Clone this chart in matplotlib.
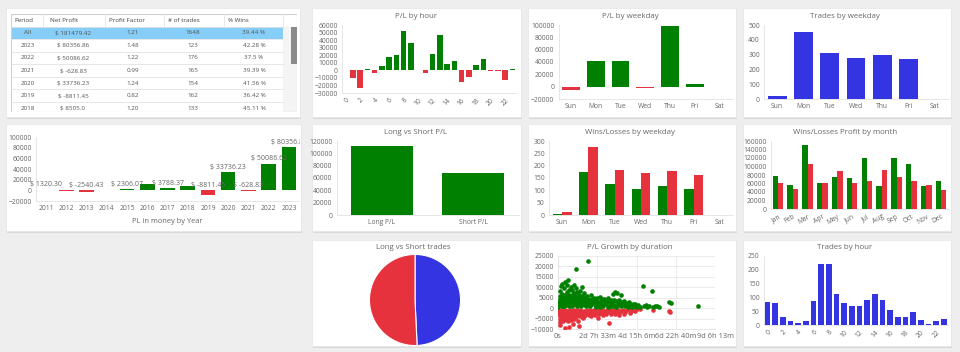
import numpy as np
import matplotlib
matplotlib.use("Agg")
import matplotlib.pyplot as plt
from matplotlib.patches import Rectangle
from matplotlib.ticker import FuncFormatter
from matplotlib.transforms import Bbox, TransformedBbox

plt.rcParams['font.family'] = ['Open Sans', 'DejaVu Sans']

GREEN = '#008000'
RED = '#e5323c'
BLUE = '#3434e2'
GREY = '#666666'

# ---- data -------------------------------------------------------------
table_cols = ['Period', 'Net Profit', 'Profit Factor', '# of trades', '% Wins']
periods = ['All', '2023', '2022', '2021', '2020', '2019', '2018']
net_profit = ['$ 181479.42', '$ 80356.86', '$ 50086.62', '$ -628.83', '$ 33736.23', '$ -8811.45', '$ 8505.0']
profit_factor = ['1.21', '1.48', '1.22', '0.99', '1.24', '0.82', '1.20']
n_trades = [1648, 123, 176, 165, 154, 162, 133]
pct_wins = ['39.44 %', '42.28 %', '37.5 %', '39.39 %', '41.56 %', '36.42 %', '45.11 %']

hours = list(range(24))
pl_hour = [400, -10000, -24000, 1500, -4000, 5600, 18000, 20500, 52000, 36000, 300, -3500,
           22000, 47000, 8000, 13000, -15000, -8700, 7000, 15000, -1500, -1000, -13000, 1500]
trades_hour = [83, 78, 30, 14, 8, 15, 88, 222, 222, 112, 78, 70, 70, 90, 112, 92, 55, 30, 30, 46,
               17, 4, 15, 20]

weekdays = ['Sun', 'Mon', 'Tue', 'Wed', 'Thu', 'Fri', 'Sat']
pl_weekday = [-6000, 41000, 42000, -2000, 99000, 4000, 0]
trades_weekday = [20, 455, 310, 278, 298, 268, 0]
wins_weekday = [5, 175, 125, 105, 118, 105, 0]
losses_weekday = [13, 275, 183, 170, 178, 162, 0]

months = ['Jan', 'Feb', 'Mar', 'Apr', 'May', 'Jun', 'Jul', 'Aug', 'Sep', 'Oct', 'Nov', 'Dec']
win_profit_month = [77000, 57000, 150000, 61000, 75000, 72000, 119000, 54000, 120000, 105000, 54000, 67000]
loss_profit_month = [62000, 47000, 106000, 62000, 89000, 62000, 66000, 91000, 75000, 67000, 57000, 44000]

years = ['2011', '2012', '2013', '2014', '2015', '2016', '2017', '2018', '2019', '2020', '2021', '2022', '2023']
pl_year = [1320.30, -450, -2540.43, 600, 2306.07, 12000, 3788.37, 8505.0, -8811.45, 33736.23, -628.83,
           50086.62, 80356.86]
year_label_shown = [1, 0, 1, 0, 1, 0, 1, 0, 1, 1, 1, 1, 1]

ls_names = ['Long P/L', 'Short P/L']
ls_pl = [112000, 68000]
ls_trades_names = ['Long trades', 'Short trades']
ls_trades = [812, 836]

# (duration in thousands of seconds, P/L)
win_points = [(2, 500), (4, 1500), (6, 3000), (8, 4500), (10, 6000), (12, 8000), (14, 10500), (16, 2500),
              (18, 1000), (20, 11800), (22, 7000), (24, 5000), (26, 3500), (28, 2000), (30, 800), (32, 9500),
              (34, 6500), (36, 4000), (38, 12500), (40, 2800), (42, 1500), (44, 11300), (46, 7800), (48, 5200),
              (50, 13700), (52, 3200), (54, 900), (56, 6200), (58, 8800), (60, 4300), (62, 2100), (64, 10200),
              (66, 5600), (68, 3700), (70, 1200), (72, 8500), (74, 6800), (76, 2600), (78, 4900), (80, 11000),
              (82, 7300), (84, 3300), (86, 1800), (88, 5900), (90, 9600), (92, 19000), (94, 4100), (96, 2400),
              (98, 7700), (100, 5300), (102, 1500), (105, 3900), (108, 6400), (110, 8200), (112, 2900),
              (115, 4700), (118, 1100), (120, 6000), (123, 10200), (126, 3600), (129, 2200), (132, 5400),
              (135, 7100), (138, 1700), (141, 4200), (144, 3000), (147, 5800), (150, 1300), (152, 22600),
              (155, 4600), (158, 2500), (162, 3800), (166, 6300), (170, 1900), (174, 4400), (178, 2800),
              (182, 5100), (186, 1400), (190, 3500), (195, 2300), (200, 4800), (205, 1600), (210, 3100),
              (215, 5300), (220, 2000), (225, 3900), (230, 1200), (235, 4500), (240, 2600), (245, 1800),
              (250, 3400), (255, 5000), (260, 2200), (265, 1000), (270, 3700), (275, 2700), (280, 7000),
              (285, 1500), (290, 7700), (295, 3200), (300, 7200), (305, 2100), (310, 4100), (315, 1300),
              (320, 6100), (325, 2900), (330, 1800), (335, 3600), (340, 900), (345, 2400), (350, 1600),
              (360, 2800), (370, 1200), (380, 2000), (391, 2100), (400, 800), (431, 10600), (440, 900),
              (448, 1300), (455, 600), (465, 1100), (480, 8400), (485, 700), (495, 1000), (505, 1200),
              (515, 500), (567, 2900), (576, 2600), (713, 1000),
              (5, 2000), (15, 3800), (25, 1200), (35, 2300), (45, 3600), (55, 2700), (65, 1400), (75, 3900),
              (85, 2200), (95, 1000), (104, 2600), (114, 3400), (124, 1800), (134, 2600), (143, 1000),
              (153, 2000), (163, 1100), (172, 2900), (184, 3100), (193, 700), (203, 2900), (213, 700),
              (223, 4300), (233, 2400), (243, 3800), (253, 700), (263, 3300), (273, 1100), (283, 3900),
              (293, 700), (303, 1700), (313, 2900), (323, 800), (333, 2500), (343, 1700), (355, 600),
              (365, 1800), (375, 500), (385, 1300), (395, 500), (410, 1400), (420, 600)]
loss_points = [(2, -500), (4, -2000), (6, -3500), (8, -5000), (10, -6500), (12, -8100), (14, -1200),
               (16, -2800), (18, -4300), (20, -5800), (22, -900), (24, -3100), (26, -4700), (28, -6000),
               (30, -1800), (32, -3800), (34, -5300), (36, -700), (38, -9500), (40, -2400), (42, -4100),
               (44, -5600), (46, -1400), (48, -3300), (50, -4900), (52, -6400), (54, -2100), (56, -3600),
               (58, -8900), (60, -1100), (62, -2700), (64, -4400), (66, -5800), (68, -1600), (70, -3200),
               (72, -4600), (74, -7400), (76, -2300), (78, -3900), (80, -1000), (82, -5100), (85, -2600),
               (88, -3700), (91, -1500), (94, -4200), (97, -2900), (100, -6200), (103, -1900), (106, -3400),
               (108, -8700), (111, -2200), (114, -4000), (117, -1300), (120, -3000), (124, -2000),
               (128, -4800), (132, -1600), (136, -2700), (140, -3500), (145, -1200), (150, -2400),
               (155, -1800), (160, -3200), (165, -1000), (170, -2200), (175, -1500), (180, -2800),
               (185, -900), (190, -1900), (195, -1300), (200, -2500), (205, -4800), (210, -1100),
               (215, -1700), (220, -2300), (225, -800), (230, -1500), (235, -2000), (240, -1200),
               (245, -2600), (250, -900), (255, -1600), (260, -7100), (265, -1000), (270, -2100),
               (275, -1400), (280, -700), (285, -1800), (290, -1100), (295, -2400), (300, -1500),
               (305, -900), (313, -3500), (320, -1300), (330, -700), (340, -1800), (350, -1000),
               (360, -600), (370, -1400), (380, -800), (390, -1200), (400, -500), (417, -650),
               (482, -1100), (564, -1450), (573, -1900),
               (5, -1500), (15, -3300), (25, -2200), (35, -4300), (45, -2800), (55, -1300), (65, -3300),
               (75, -1200), (87, -4800), (99, -900), (110, -1000), (122, -4200), (134, -3700), (148, -900),
               (158, -2600), (168, -3600), (188, -3300), (208, -2900), (228, -3100), (248, -1900),
               (268, -3000), (288, -2800), (310, -2200), (335, -2600), (365, -2400)]

# ---- layout helpers ---------------------------------------------------
W, H = 960, 352
fig = plt.figure(figsize=(9.6, 3.52), dpi=100)
fig.patch.set_facecolor('#eeeeee')


def box(l, t, r, b):
    return [l / W, 1 - b / H, (r - l) / W, (b - t) / H]


bg = fig.add_axes([0, 0, 1, 1], zorder=-10)
bg.set_xlim(0, W)
bg.set_ylim(H, 0)
bg.axis('off')

cards = [(6, 8, 300, 117), (312, 8, 521, 117), (528, 8, 736, 117), (743, 8, 951, 117),
         (6, 124, 301, 231), (312, 124, 521, 231), (528, 124, 736, 231), (743, 124, 951, 231),
         (312, 240, 521, 346), (528, 240, 736, 346), (743, 240, 951, 346)]
for l, t, r, b in cards:
    bg.add_patch(Rectangle((l + 1, t + 1.5), r - l, b - t, fc='#d9d9d9', ec='none'))
    bg.add_patch(Rectangle((l, t), r - l, b - t, fc='white', ec='#e6e6e6', lw=0.5))

titles = [('P/L by hour', 416, 16.5), ('P/L by weekday', 630, 16.5), ('Trades by weekday', 845, 16.5),
          ('Long vs Short P/L', 415, 132), ('Wins/Losses by weekday', 630, 132),
          ('Wins/Losses Profit by month', 845, 132), ('Long vs Short trades', 413, 247.5),
          ('P/L Growth by duration', 630, 247.5), ('Trades by hour', 845, 247.5)]
for txt, x, y in titles:
    bg.text(x, y, txt, ha='center', va='center', fontsize=5.7, color=GREY)


def style(ax, ymin, ymax, step, n=None):
    ax.set_facecolor('none')
    ax.set_ylim(ymin, ymax)
    ax.set_yticks(np.arange(ymin, ymax + 1, step))
    ax.ticklabel_format(axis='y', style='plain', useOffset=False)
    ax.tick_params(length=0, labelsize=4.9, labelcolor=GREY, pad=3)
    for s in ['top', 'right']:
        ax.spines[s].set_visible(False)
    for s in ['left', 'bottom']:
        ax.spines[s].set_color('#e2e2e2')
        ax.spines[s].set_linewidth(0.6)
    if n is not None:
        ax.set_xlim(-0.5, n - 0.5)


def sign_colors(vals):
    return [GREEN if v >= 0 else RED for v in vals]


# ---- table ------------------------------------------------------------
tax = fig.add_axes(box(11, 14, 297, 112))
tax.set_xlim(0, 286)
tax.set_ylim(7.8, 0)
tax.axis('off')
col_edges = [0, 32, 94, 153, 213, 272]
head_x = [3, 39, 98, 157, 217]
cell_x = [17, 62, 122, 182, 243]
tax.add_patch(Rectangle((0, 1), 272, 1, fc='#86cdf7', ec='none'))
tax.add_patch(Rectangle((272, 1), 14, 6.8, fc='#f4f4f4', ec='none'))
tax.add_patch(Rectangle((279.5, 1.05), 6, 2.95, fc='#8a8a8a', ec='none'))
for k in range(1, 8):
    tax.plot([0, 272], [k, k], color='#e3e3e3', lw=0.6)
for x in col_edges[1:]:
    tax.plot([x, x], [0, 1], color='#e3e3e3', lw=0.6)
tax.add_patch(Rectangle((0, 0), 286, 7.8, fill=False, ec='#cfcfcf', lw=0.8))
for x, c in zip(head_x, table_cols):
    tax.text(x, 0.5, c, ha='left', va='center', fontsize=4.5, color='#444444')
rows = list(zip(periods, net_profit, profit_factor, n_trades, pct_wins))
for i, row in enumerate(rows):
    for x, v in zip(cell_x, row):
        tax.text(x, i + 1.5, str(v), ha='center', va='center', fontsize=4.5, color='#555555', clip_on=True)

# ---- P/L by hour ------------------------------------------------------
ax = fig.add_axes(box(342, 25, 516, 93))
ax.bar(hours, pl_hour, width=0.76, color=sign_colors(pl_hour))
style(ax, -30000, 60000, 10000, 24)
ax.set_xticks(hours[::2])
ax.set_xticklabels(hours[::2], rotation=45, ha='right', rotation_mode='anchor')

# ---- P/L by weekday ---------------------------------------------------
ax = fig.add_axes(box(558.5, 25, 732, 99))
ax.bar(weekdays, pl_weekday, width=0.72, color=sign_colors(pl_weekday))
style(ax, -20000, 100000, 20000, 7)

# ---- Trades by weekday ------------------------------------------------
ax = fig.add_axes(box(764, 25, 948, 99))
ax.bar(weekdays, trades_weekday, width=0.72, color=BLUE)
style(ax, 0, 500, 100, 7)

# ---- PL by year -------------------------------------------------------
ax = fig.add_axes(box(36, 137, 299, 201))
ax.bar(years, pl_year, width=0.72, color=sign_colors(pl_year))
style(ax, -20000, 100000, 20000, len(years))
ax.set_xlabel('PL in money by Year', fontsize=5.4, color=GREY, labelpad=4)
card_clip = TransformedBbox(Bbox.from_extents(6 / W, 0, 300 / W, 1), fig.transFigure)
for i, (v, show) in enumerate(zip(pl_year, year_label_shown)):
    if show:
        t = ax.text(i, max(v, 0) + 2500, f'$ {v:.2f}', ha='center', va='bottom', fontsize=5, color=GREY)
        t.set_clip_on(True)
        t.set_clip_path(None)
        t.set_clip_box(card_clip)

# ---- Long vs Short P/L ------------------------------------------------
ax = fig.add_axes(box(336.5, 141, 518.5, 215))
ax.bar(ls_names, ls_pl, width=0.68, color=GREEN)
style(ax, 0, 120000, 20000, 2)

# ---- Wins/Losses by weekday -------------------------------------------
ax = fig.add_axes(box(549, 141, 733, 215))
x = np.arange(len(weekdays))
ax.bar(x - 0.18, wins_weekday, width=0.36, color=GREEN)
ax.bar(x + 0.18, losses_weekday, width=0.36, color=RED)
style(ax, 0, 300, 50, 7)
ax.set_xticks(x)
ax.set_xticklabels(weekdays)

# ---- Wins/Losses Profit by month --------------------------------------
ax = fig.add_axes(box(770.5, 141, 948.5, 209))
x = np.arange(len(months))
ax.bar(x - 0.18, win_profit_month, width=0.36, color=GREEN)
ax.bar(x + 0.18, loss_profit_month, width=0.36, color=RED)
style(ax, 0, 160000, 20000, 12)
ax.set_xticks(x)
ax.set_xticklabels(months, rotation=30, ha='right', rotation_mode='anchor')

# ---- Long vs Short trades pie -----------------------------------------
ax = fig.add_axes(box(369, 254, 461, 346))
ax.pie(ls_trades, colors=[BLUE, RED], startangle=90, counterclock=False,
       wedgeprops=dict(edgecolor='white', linewidth=0.8))
ax.set_xlim(-1.01, 1.01)
ax.set_ylim(-1.01, 1.01)
ax.set_aspect('equal')

# ---- P/L Growth by duration -------------------------------------------
ax = fig.add_axes(box(558, 256, 715, 329))
wd = np.array([p[0] for p in win_points]) * 1000
wp = [p[1] for p in win_points]
ld = np.array([p[0] for p in loss_points]) * 1000
lp = [p[1] for p in loss_points]
ax.scatter(ld, lp, s=11, color=RED, lw=0, zorder=3)
ax.scatter(wd, wp, s=11, color=GREEN, lw=0, zorder=3)
style(ax, -10000, 25000, 5000)
ax.set_xlim(0, 800000)
ax.set_xticks([0, 200000, 400000, 600000, 800000])
ax.grid(color='#e8e8e8', lw=0.6)
ax.set_axisbelow(True)


def dur_fmt(v, pos):
    v = int(round(v))
    if v == 0:
        return '0s'
    d, rem = divmod(v, 86400)
    h, rem = divmod(rem, 3600)
    m = rem // 60
    return f'{d}d {h}h {m}m'


ax.xaxis.set_major_formatter(FuncFormatter(dur_fmt))
ax.tick_params(axis='x', labelsize=5.4)

# ---- Trades by hour ---------------------------------------------------
ax = fig.add_axes(box(763.7, 256, 947.8, 325))
ax.bar(hours, trades_hour, width=0.74, color=BLUE)
style(ax, 0, 250, 50, 24)
ax.set_xticks(hours[::2])
ax.set_xticklabels(hours[::2], rotation=45, ha='right', rotation_mode='anchor')

fig.savefig('out.png', dpi=100, facecolor=fig.get_facecolor())
